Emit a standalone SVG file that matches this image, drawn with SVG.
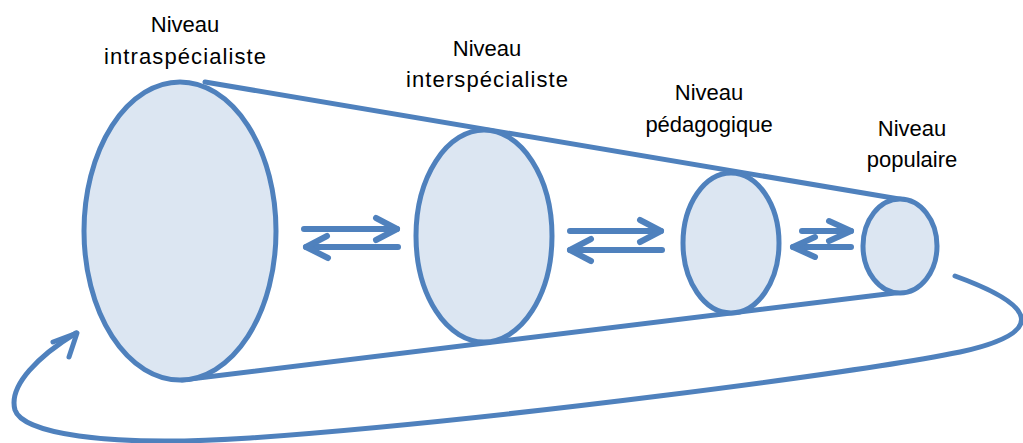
<svg xmlns="http://www.w3.org/2000/svg" width="1023" height="443" viewBox="0 0 1023 443">
<style>
.n{fill:#DCE6F2;stroke:#4F81BD;stroke-width:5}
.c{fill:none;stroke:#4F81BD;stroke-width:5;stroke-linecap:round;stroke-linejoin:round}
.a{fill:none;stroke:#4F81BD;stroke-width:6;stroke-linecap:round;stroke-linejoin:round}
text{font-family:"Liberation Sans",Arial,sans-serif;font-size:22px;fill:#000;text-anchor:middle}
</style>
<rect width="1023" height="443" fill="#fff"/>
<g id="connectors">
<line class="c" x1="205" y1="82" x2="905" y2="200"/>
<line class="c" x1="182" y1="380" x2="903" y2="292"/>
<path class="c" d="M955,276 C1035,305 1050,332 960,352 C860,372 500,420 250,438 C100,448 22,432 15,410 C8,385 40,355 76,333"/>
<polyline class="c" points="53,342 77,333 69,357"/>
<g class="a">
<line x1="304" y1="229" x2="397" y2="229"/><polyline points="376,218 397,229 376,240"/>
<line x1="306" y1="247" x2="398" y2="247"/><polyline points="327,236 306,247 328,258"/>
<line x1="570" y1="231" x2="661" y2="231"/><polyline points="640,220 661,231 640,242"/>
<line x1="570" y1="250" x2="662" y2="250"/><polyline points="591,239 570,250 591,261"/>
<line x1="802" y1="231" x2="851" y2="231"/><polyline points="829,221 851,231 829,241"/>
<line x1="793" y1="247" x2="851" y2="247"/><polyline points="815,237 793,247 815,257"/>
</g>
</g>
<g id="n1"><ellipse class="n" cx="180" cy="231" rx="96" ry="149"/><text x="185" y="32">Niveau</text><text x="185" y="64" textLength="162" lengthAdjust="spacing">intraspécialiste</text></g>
<g id="n2"><ellipse class="n" cx="484" cy="236" rx="68" ry="106"/><text x="487" y="56">Niveau</text><text x="487" y="87" textLength="162" lengthAdjust="spacing">interspécialiste</text></g>
<g id="n3"><ellipse class="n" cx="731" cy="243" rx="48" ry="70"/><text x="709" y="100">Niveau</text><text x="709" y="132">pédagogique</text></g>
<g id="n4"><ellipse class="n" cx="900" cy="246" rx="37" ry="47"/><text x="912" y="136">Niveau</text><text x="912" y="167">populaire</text></g>
</svg>
